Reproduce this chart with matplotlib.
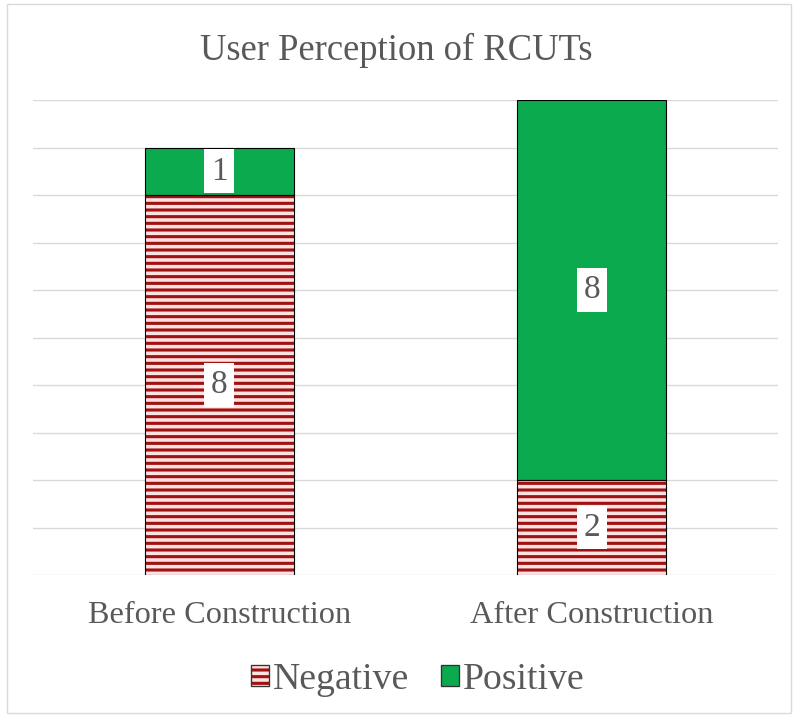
import matplotlib.pyplot as plt
from matplotlib.patches import Rectangle, Patch
from matplotlib.legend_handler import HandlerTuple
import numpy as np

plt.rcParams['font.family'] = ['Liberation Serif', 'DejaVu Serif']
plt.rcParams['hatch.linewidth'] = 2.8

categories = ['Before Construction', 'After Construction']
negative = [8, 2]
positive = [1, 8]

text_gray = '#595959'
stripe_red = '#A01212'
stripe_bg = '#FDE2E2'
green = '#0BAA4E'

fig = plt.figure(figsize=(793 / 80, 717 / 80), dpi=80)
ax = fig.add_axes([0.0416, 0.198, 0.9394, 0.6625])

x = np.arange(len(categories))
width = 0.4

# rayas: el color del hatch sale del edgecolor, asi que el contorno va aparte
neg_bars = ax.bar(x, negative, width, color=stripe_bg, edgecolor=stripe_red,
                  linewidth=0, hatch='--', zorder=3)
ax.bar(x, negative, width, fill=False, edgecolor='black', linewidth=1.0, zorder=4)
pos_bars = ax.bar(x, positive, width, bottom=negative, color=green,
                  edgecolor='black', linewidth=1.0, zorder=3)

# etiquetas con caja blanca
for bars, vals, base in [(neg_bars, negative, [0, 0]), (pos_bars, positive, negative)]:
    for b, v, b0 in zip(bars, vals, base):
        ax.text(b.get_x() + b.get_width() / 2, b0 + v / 2, str(v),
                ha='center', va='center', fontsize=30, color=text_gray, zorder=5,
                bbox=dict(boxstyle='square,pad=0.2', fc='white', ec='none'))

ax.set_xlim(-0.5, 1.5)
ax.set_ylim(0, 10)
ax.set_yticks(np.arange(0, 11, 1))
ax.yaxis.grid(True, color='#D9D9D9', linewidth=1.2, zorder=0)
ax.set_axisbelow(True)
ax.tick_params(axis='y', left=False, labelleft=False)
ax.tick_params(axis='x', bottom=False, pad=20)
ax.set_xticks(x)
ax.set_xticklabels(categories, fontsize=29, color=text_gray)
for s in ax.spines.values():
    s.set_visible(False)

fig.text(0.5, 0.93, 'User Perception of RCUTs', ha='center', va='center',
         fontsize=33, color=text_gray)

neg_handle = (Patch(facecolor=stripe_bg, edgecolor=stripe_red, linewidth=0, hatch='--'),
              Patch(fill=False, edgecolor='#333333', linewidth=1.2))
pos_handle = Patch(facecolor=green, edgecolor='#333333', linewidth=1.2)
fig.legend([neg_handle, pos_handle], ['Negative', 'Positive'],
           handler_map={tuple: HandlerTuple(ndivide=1)},
           loc='center', bbox_to_anchor=(0.527, 0.052), ncol=2,
           frameon=False, fontsize=34, labelcolor=text_gray, handlelength=0.48,
           handleheight=0.48, handletextpad=0.1, columnspacing=0.85)

# marco exterior
fig.patches.append(Rectangle((0.009, 0.005), 0.988, 0.99, transform=fig.transFigure,
                             fill=False, edgecolor='#D9D9D9', linewidth=1.2))

fig.savefig('out.png', dpi=80, facecolor='white')
